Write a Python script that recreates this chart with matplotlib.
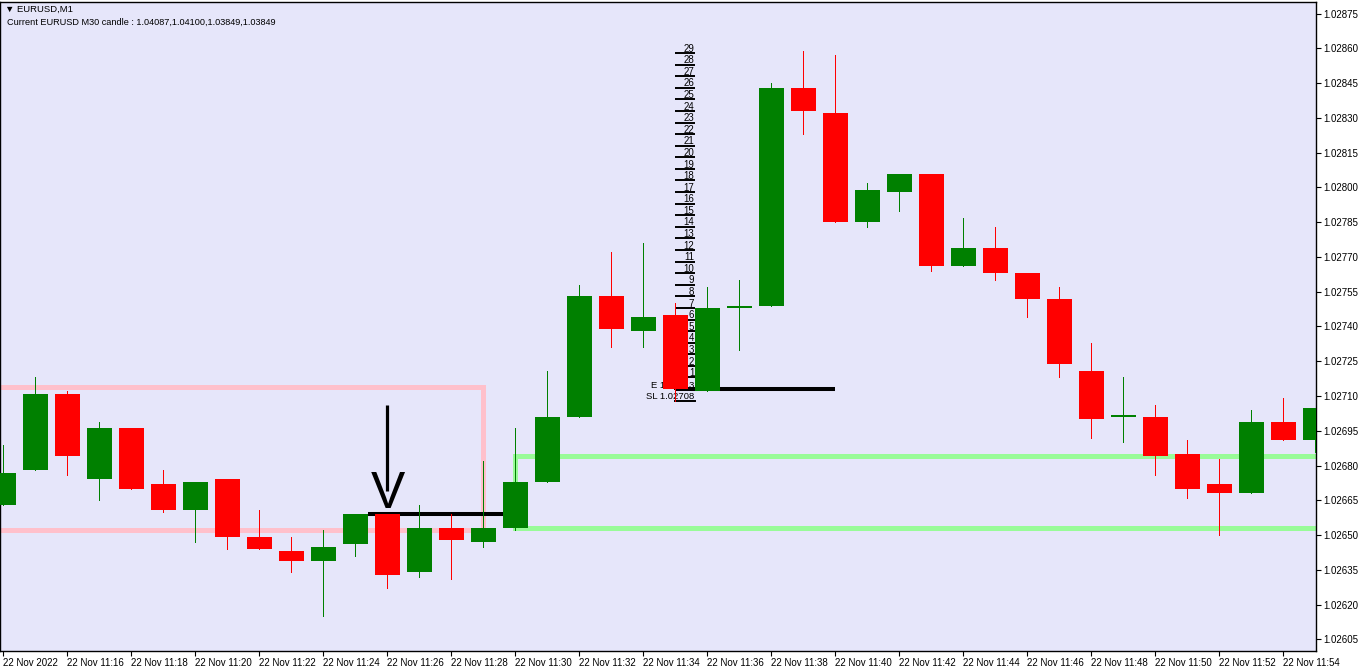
import matplotlib
matplotlib.use("Agg")
import matplotlib.pyplot as plt
import numpy as np

# ---------------- data ----------------
opens  = [1.02663, 1.02678, 1.02711, 1.02674, 1.02696, 1.02672, 1.02661, 1.02674, 1.02649, 1.02643,
          1.02639, 1.02646, 1.02659, 1.02634, 1.02653, 1.02647, 1.02653, 1.02673, 1.02701, 1.02753,
          1.02738, 1.02745, 1.02712, 1.02748, 1.02749, 1.02843, 1.02832, 1.02785, 1.02798, 1.02806,
          1.02766, 1.02774, 1.02763, 1.02752, 1.02721, 1.02701, 1.02701, 1.02685, 1.02672, 1.02668,
          1.02699, 1.02691]
highs  = [1.02689, 1.02718, 1.02712, 1.02699, 1.02696, 1.02678, 1.02673, 1.02674, 1.02661, 1.02649,
          1.02652, 1.02659, 1.02659, 1.02663, 1.02659, 1.02682, 1.02696, 1.02721, 1.02758, 1.02772,
          1.02776, 1.02750, 1.02757, 1.02760, 1.02845, 1.02859, 1.02857, 1.02802, 1.02806, 1.02806,
          1.02787, 1.02783, 1.02763, 1.02757, 1.02733, 1.02718, 1.02706, 1.02691, 1.02683, 1.02704,
          1.02709, 1.02705]
lows   = [1.02663, 1.02678, 1.02676, 1.02665, 1.02670, 1.02660, 1.02647, 1.02644, 1.02644, 1.02634,
          1.02615, 1.02641, 1.02627, 1.02632, 1.02631, 1.02645, 1.02652, 1.02673, 1.02701, 1.02731,
          1.02731, 1.02708, 1.02712, 1.02730, 1.02749, 1.02823, 1.02785, 1.02783, 1.02790, 1.02764,
          1.02766, 1.02760, 1.02744, 1.02718, 1.02692, 1.02690, 1.02676, 1.02666, 1.02650, 1.02668,
          1.02691, 1.02686]
closes = [1.02677, 1.02711, 1.02684, 1.02696, 1.02670, 1.02661, 1.02673, 1.02649, 1.02644, 1.02639,
          1.02645, 1.02659, 1.02633, 1.02653, 1.02648, 1.02653, 1.02673, 1.02701, 1.02753, 1.02739,
          1.02744, 1.02713, 1.02748, 1.02749, 1.02843, 1.02833, 1.02785, 1.02799, 1.02806, 1.02766,
          1.02774, 1.02763, 1.02752, 1.02724, 1.02700, 1.02702, 1.02684, 1.02670, 1.02668, 1.02699,
          1.02691, 1.02705]

x_tick_labels = ["22 Nov 2022", "22 Nov 11:16", "22 Nov 11:18", "22 Nov 11:20", "22 Nov 11:22",
                 "22 Nov 11:24", "22 Nov 11:26", "22 Nov 11:28", "22 Nov 11:30", "22 Nov 11:32",
                 "22 Nov 11:34", "22 Nov 11:36", "22 Nov 11:38", "22 Nov 11:40", "22 Nov 11:42",
                 "22 Nov 11:44", "22 Nov 11:46", "22 Nov 11:48", "22 Nov 11:50", "22 Nov 11:52",
                 "22 Nov 11:54"]
y_ticks = [1.02605, 1.02620, 1.02635, 1.02650, 1.02665, 1.02680, 1.02695, 1.02710, 1.02725,
           1.02740, 1.02755, 1.02770, 1.02785, 1.02800, 1.02815, 1.02830, 1.02845, 1.02860, 1.02875]

# zones / levels
pink_top, pink_bottom, pink_end = 1.02714, 1.02652, 15
green_top, green_bottom, green_start = 1.02684, 1.02653, 16
break_level, break_start, break_end = 1.02659, 11.39, 16
entry_price, entry_start, entry_end = 1.02713, 21, 26
sl_price = 1.02708
ladder_levels = list(range(1, 30))
ladder_step = 0.00005
arrow_x, arrow_top, arrow_bottom, arrow_v_base = 12, 1.02706, 1.02669, 1.026617

title1 = "\u25BC EURUSD,M1"
title2 = "Current EURUSD M30 candle : 1.04087,1.04100,1.03849,1.03849"

# ---------------- plot ----------------
W, H = 1362, 672
fig = plt.figure(figsize=(W / 100, H / 100), dpi=100)
fig.patch.set_facecolor("white")
ax = fig.add_axes([0, 1 - 651 / H, 1316 / W, (651 - 2) / H])
ax.set_facecolor("#E6E6FA")
FONT = "Liberation Sans"

n = len(opens)
xs = np.arange(n)
o = np.array(opens); c = np.array(closes); h = np.array(highs); l = np.array(lows)
up = c >= o
cols = np.where(up, "#008000", "#FF0000")

# zones
pink = "#FFC0CB"
ax.plot([-2, pink_end], [pink_top, pink_top], color=pink, lw=3.6, zorder=1, solid_capstyle="butt")
ax.plot([-2, pink_end], [pink_bottom, pink_bottom], color=pink, lw=3.6, zorder=1, solid_capstyle="butt")
ax.plot([pink_end, pink_end], [pink_bottom, pink_top], color=pink, lw=3.6, zorder=1, solid_capstyle="projecting")

green = "#98FB98"
ax.plot([green_start, 45], [green_top, green_top], color=green, lw=3.6, zorder=1, solid_capstyle="butt")
ax.plot([green_start, 45], [green_bottom, green_bottom], color=green, lw=3.6, zorder=1, solid_capstyle="butt")
ax.plot([green_start, green_start], [green_bottom, green_top], color=green, lw=3.6, zorder=1, solid_capstyle="projecting")

# black break line
ax.plot([break_start, break_end], [break_level, break_level], color="black", lw=2.9, zorder=2, solid_capstyle="butt")

# entry line
ax.plot([entry_start, entry_end], [entry_price, entry_price], color="black", lw=2.9, zorder=2, solid_capstyle="butt")

# ladder
lx0, lx1 = entry_start, entry_start + 0.62
off = 0.0000058
for k in ladder_levels:
    yv = entry_price + k * ladder_step
    ax.plot([lx0, lx1], [yv, yv], color="black", lw=1.4, zorder=2, solid_capstyle="butt")
    ax.text(lx1 - 0.03, yv + off, str(k), ha="right", va="baseline", fontsize=7,
            family=FONT, color="black", zorder=2)
ax.plot([lx0, lx1], [entry_price, entry_price], color="black", lw=1.4, zorder=2)
ax.plot([lx0, lx1], [sl_price, sl_price], color="black", lw=1.4, zorder=2)
ax.text(lx1 - 0.03, entry_price + off, "E %.5f" % entry_price, ha="right", va="baseline",
        fontsize=6.8, family=FONT, color="black", zorder=2)
ax.text(lx1 - 0.03, sl_price + off, "SL %.5f" % sl_price, ha="right", va="baseline",
        fontsize=6.8, family=FONT, color="black", zorder=2)

# candles
ax.vlines(xs, l, h, colors=cols, lw=0.6, zorder=3, antialiased=False)
bottoms = np.minimum(o, c)
heights = np.maximum(np.abs(c - o), 0.000004)
ax.bar(xs, heights, bottom=bottoms, width=0.78, color=cols, edgecolor="none", zorder=4)

# arrow
ax.plot([arrow_x, arrow_x], [arrow_bottom, arrow_top], color="black", lw=2.3, zorder=5, solid_capstyle="butt")
ax.text(arrow_x, arrow_v_base, "V", ha="center", va="baseline", fontsize=37, family=FONT,
        color="black", zorder=5)

# axes
ax.set_xlim(-0.109, 41.02)
ax.set_ylim(1.02600, 1.02880)
ax.yaxis.tick_right()
ax.set_yticks(y_ticks)
ax.set_yticklabels(["%.5f" % v for v in y_ticks], fontsize=7, family=FONT)
ax.set_xticks(np.arange(0, n, 2)[:len(x_tick_labels)])
ax.set_xticklabels(x_tick_labels, fontsize=7, family=FONT, ha="left")
ax.tick_params(axis="both", direction="out", length=3.5, width=0.8, color="black", pad=1.5)
ax.tick_params(axis="x", pad=1.5)
for s in ax.spines.values():
    s.set_color("black")
    s.set_linewidth(1.0)

fig.text(5 / W, 1 - 9 / H, title1, fontsize=6.8, family=[FONT, "DejaVu Sans"], va="center", ha="left")
fig.text(7 / W, 1 - 22 / H, title2, fontsize=6.6, family=FONT, va="center", ha="left")

fig.savefig("out.png", dpi=100, facecolor="white")
